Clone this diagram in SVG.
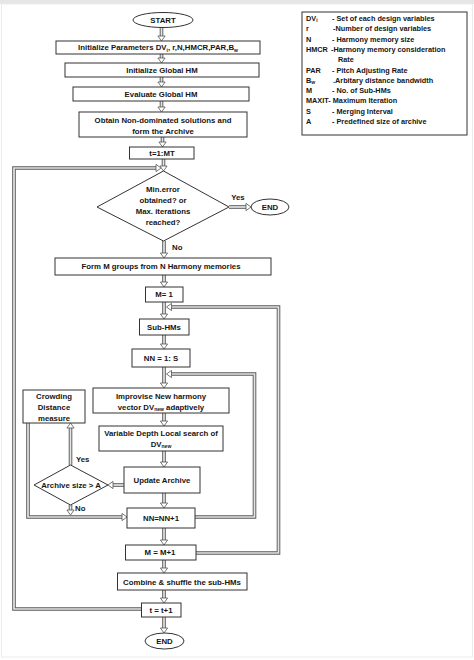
<svg xmlns="http://www.w3.org/2000/svg" xmlns:xlink="http://www.w3.org/1999/xlink" width="474" height="660" viewBox="0 0 474 660">
<style>
text{font-family:"Liberation Sans",Arial,sans-serif;font-weight:bold;font-size:7.8px;fill:#151515;}
.c{text-anchor:middle;}
.lg{font-size:7.3px;}
.sb{font-size:5px;}
.box{fill:#fff;stroke:#333;stroke-width:1;}
.o{fill:none;stroke:#5a5a5a;stroke-width:3.6;stroke-linejoin:miter;}
.i{fill:none;stroke:#e4e4e4;stroke-width:1.7;stroke-linejoin:miter;}
.ah{fill:#fff;stroke:#555;stroke-width:0.8;stroke-linejoin:miter;}
</style>
<defs>
<path id="ah" d="M-3.6,-5 L0,0 L3.6,-5 Z"/>
<path id="p1" d="M161.5,27 V37"/>
<path id="p2" d="M161.5,54 V59"/>
<path id="p3" d="M161.5,77 V83"/>
<path id="p4" d="M161.5,101 V108"/>
<path id="p5" d="M162.5,137 V143"/>
<path id="p6" d="M163.5,159 V167"/>
<path id="pl1" d="M141,609 H14 V168 H157"/>
<path id="p7" d="M229,207 H247"/>
<path id="p8" d="M164,241 V254"/>
<path id="p9" d="M164,275 V283"/>
<path id="p10" d="M164,302 V315"/>
<path id="pl2" d="M196,553 H278.5 V307 H170"/>
<path id="p11" d="M164,335 V345"/>
<path id="p12" d="M164,367 V384"/>
<path id="pl3" d="M195,517 H254.5 V374 H170"/>
<path id="p13" d="M164,413 V422"/>
<path id="p14" d="M164,451 V463"/>
<path id="p15" d="M164,493 V504"/>
<path id="p16" d="M164,528 V541"/>
<path id="p17" d="M164,560 V569"/>
<path id="p18" d="M164,590 V599"/>
<path id="p19" d="M164,617 V629"/>
<path id="pua" d="M124,485 H112"/>
<path id="pyes" d="M70.5,465 V427"/>
<path id="pno" d="M70.5,505 V511"/>
<path id="pleft" d="M28,423 V517 H123"/>
</defs>
<rect x="0" y="0" width="474" height="660" fill="#fff"/>
<rect x="0" y="0" width="474" height="4" fill="#e6e6e6"/>
<rect x="1.5" y="4" width="471" height="653" fill="none" stroke="#ececec" stroke-width="1"/>

<g id="connectors">
<g class="o">
<use xlink:href="#p1"/><use xlink:href="#p2"/><use xlink:href="#p3"/><use xlink:href="#p4"/><use xlink:href="#p5"/><use xlink:href="#p6"/>
<use xlink:href="#pl1"/><use xlink:href="#p7"/><use xlink:href="#p8"/><use xlink:href="#p9"/><use xlink:href="#p10"/><use xlink:href="#pl2"/>
<use xlink:href="#p11"/><use xlink:href="#p12"/><use xlink:href="#pl3"/><use xlink:href="#p13"/><use xlink:href="#p14"/><use xlink:href="#p15"/>
<use xlink:href="#p16"/><use xlink:href="#p17"/><use xlink:href="#p18"/><use xlink:href="#p19"/><use xlink:href="#pua"/><use xlink:href="#pyes"/>
<use xlink:href="#pno"/><use xlink:href="#pleft"/>
</g>
<g class="i">
<use xlink:href="#p1"/><use xlink:href="#p2"/><use xlink:href="#p3"/><use xlink:href="#p4"/><use xlink:href="#p5"/><use xlink:href="#p6"/>
<use xlink:href="#pl1"/><use xlink:href="#p7"/><use xlink:href="#p8"/><use xlink:href="#p9"/><use xlink:href="#p10"/><use xlink:href="#pl2"/>
<use xlink:href="#p11"/><use xlink:href="#p12"/><use xlink:href="#pl3"/><use xlink:href="#p13"/><use xlink:href="#p14"/><use xlink:href="#p15"/>
<use xlink:href="#p16"/><use xlink:href="#p17"/><use xlink:href="#p18"/><use xlink:href="#p19"/><use xlink:href="#pua"/><use xlink:href="#pyes"/>
<use xlink:href="#pno"/><use xlink:href="#pleft"/>
</g>
<g class="ah">
<use xlink:href="#ah" transform="translate(161.5,41)"/>
<use xlink:href="#ah" transform="translate(161.5,63)"/>
<use xlink:href="#ah" transform="translate(161.5,87)"/>
<use xlink:href="#ah" transform="translate(161.5,112)"/>
<use xlink:href="#ah" transform="translate(162.5,147)"/>
<use xlink:href="#ah" transform="translate(163.5,171)"/>
<use xlink:href="#ah" transform="translate(161,168) rotate(-90)"/>
<use xlink:href="#ah" transform="translate(251,207) rotate(-90)"/>
<use xlink:href="#ah" transform="translate(164,258)"/>
<use xlink:href="#ah" transform="translate(164,287)"/>
<use xlink:href="#ah" transform="translate(164,319)"/>
<use xlink:href="#ah" transform="translate(166.5,307) rotate(90)"/>
<use xlink:href="#ah" transform="translate(164,349)"/>
<use xlink:href="#ah" transform="translate(164,388)"/>
<use xlink:href="#ah" transform="translate(166.5,374) rotate(90)"/>
<use xlink:href="#ah" transform="translate(164,426)"/>
<use xlink:href="#ah" transform="translate(164,467)"/>
<use xlink:href="#ah" transform="translate(164,508)"/>
<use xlink:href="#ah" transform="translate(164,545)"/>
<use xlink:href="#ah" transform="translate(164,573)"/>
<use xlink:href="#ah" transform="translate(164,603)"/>
<use xlink:href="#ah" transform="translate(164,633)"/>
<use xlink:href="#ah" transform="translate(108,485) rotate(90)"/>
<use xlink:href="#ah" transform="translate(70.5,423) rotate(180)"/>
<use xlink:href="#ah" transform="translate(70.5,515)"/>
<use xlink:href="#ah" transform="translate(127,517) rotate(-90)"/>
</g>
<text x="238" y="200" class="c">Yes</text>
<text x="172" y="250">No</text>
<text x="76" y="462">Yes</text>
<text x="75" y="511">No</text>
</g>

<g id="start">
<ellipse cx="163" cy="20" rx="30" ry="7.5" class="box"/>
<text x="163" y="22.8" class="c">START</text>
</g>
<g id="init-params">
<rect x="56" y="41" width="204" height="13" class="box"/>
<text x="158" y="50.3" class="c">Initialize Parameters DV<tspan class="sb" dy="1.5">i</tspan><tspan dy="-1.5">, r,N,HMCR,PAR,B</tspan><tspan class="sb" dy="1.5">w</tspan></text>
</g>
<g id="init-hm">
<rect x="65" y="63" width="194" height="14" class="box"/>
<text x="162" y="72.8" class="c">Initialize Global HM</text>
</g>
<g id="eval-hm">
<rect x="73" y="87" width="176" height="14" class="box"/>
<text x="161" y="96.8" class="c">Evaluate Global HM</text>
</g>
<g id="archive">
<rect x="79" y="112" width="168" height="25" class="box"/>
<text x="163" y="123" class="c">Obtain Non-dominated solutions and</text>
<text x="163" y="134" class="c">form the Archive</text>
</g>
<g id="t-loop">
<rect x="129.5" y="147" width="64.5" height="12" class="box"/>
<text x="162" y="155.8" class="c">t=1:MT</text>
</g>
<g id="decision">
<polygon points="163.5,171 229,207 163.5,241 97,207" class="box"/>
<text x="163" y="191.8" class="c">Min.error</text>
<text x="163" y="202.8" class="c">obtained? or</text>
<text x="163" y="213.8" class="c">Max. iterations</text>
<text x="163" y="224.8" class="c">reached?</text>
</g>
<g id="end1">
<ellipse cx="270" cy="207" rx="19" ry="8" class="box"/>
<text x="270" y="209.8" class="c">END</text>
</g>
<g id="form-groups">
<rect x="55" y="258" width="216" height="17" class="box"/>
<text x="161" y="269.3" class="c">Form M groups from N Harmony memories</text>
</g>
<g id="m1">
<rect x="145.5" y="287" width="37.5" height="15" class="box"/>
<text x="164" y="297.3" class="c">M= 1</text>
</g>
<g id="subhms">
<rect x="139.5" y="319" width="49.5" height="16" class="box"/>
<text x="164" y="329.8" class="c">Sub-HMs</text>
</g>
<g id="nn1">
<rect x="132" y="349" width="58" height="18" class="box"/>
<text x="161" y="360.8" class="c">NN = 1: S</text>
</g>
<g id="crowding">
<rect x="23" y="390" width="62" height="33" class="box"/>
<text x="54" y="398.8" class="c">Crowding</text>
<text x="54" y="409.8" class="c">Distance</text>
<text x="54" y="420.8" class="c">measure</text>
</g>
<g id="improvise">
<rect x="93" y="388" width="136" height="25" class="box"/>
<text x="161" y="398.8" class="c">Improvise New harmony</text>
<text x="161" y="409.8" class="c">vector DV<tspan class="sb" dy="1">new</tspan><tspan dy="-1"> adaptively</tspan></text>
</g>
<g id="local-search">
<rect x="99" y="426" width="124" height="25" class="box"/>
<text x="161" y="435.8" class="c">Variable Depth Local search of</text>
<text x="161" y="446.8" class="c">DV<tspan class="sb" dy="1">new</tspan></text>
</g>
<g id="update-archive">
<rect x="124" y="467" width="76" height="26" class="box"/>
<text x="162" y="482.8" class="c">Update Archive</text>
</g>
<g id="archive-size">
<polygon points="70.5,465 108,485 70.5,505 34,485" class="box"/>
<text x="71" y="487.8" class="c">Archive size &gt; A</text>
</g>
<g id="nn-inc">
<rect x="127" y="508" width="68" height="20" class="box"/>
<text x="161" y="520.8" class="c">NN=NN+1</text>
</g>
<g id="m-inc">
<rect x="125.5" y="545" width="70.5" height="15" class="box"/>
<text x="160" y="555.3" class="c">M = M+1</text>
</g>
<g id="combine">
<rect x="117.5" y="573" width="129.5" height="17" class="box"/>
<text x="182" y="584.8" class="c">Combine &amp; shuffle the sub-HMs</text>
</g>
<g id="t-inc">
<rect x="141.5" y="603" width="39.5" height="14" class="box"/>
<text x="161" y="612.8" class="c">t = t+1</text>
</g>
<g id="end2">
<ellipse cx="164.5" cy="641" rx="19.5" ry="8" class="box"/>
<text x="164.5" y="643.8" class="c">END</text>
</g>

<g id="legend">
<rect x="302" y="12" width="165" height="123" class="box"/>
<text x="306" y="21" class="lg">DV<tspan class="sb" dy="1">i</tspan></text><text x="332" y="21" class="lg">- Set of each design variables</text>
<text x="306" y="31.3" class="lg">r</text><text x="333" y="31.3" class="lg">-Number of design variables</text>
<text x="306" y="41.6" class="lg">N</text><text x="332" y="41.6" class="lg">- Harmony memory size</text>
<text x="306" y="51.9" class="lg">HMCR</text><text x="331" y="51.9" class="lg">-Harmony memory consideration</text>
<text x="338" y="62.2" class="lg">Rate</text>
<text x="306" y="72.5" class="lg">PAR</text><text x="332" y="72.5" class="lg">- Pitch Adjusting Rate</text>
<text x="306" y="82.8" class="lg">B<tspan class="sb" dy="1">w</tspan></text><text x="333" y="82.8" class="lg">.Arbitary distance bandwidth</text>
<text x="306" y="93.1" class="lg">M</text><text x="332" y="93.1" class="lg">- No. of Sub-HMs</text>
<text x="306" y="103.4" class="lg">MAXIT- Maximum Iteration</text>
<text x="306" y="113.7" class="lg">S</text><text x="332" y="113.7" class="lg">- Merging Interval</text>
<text x="306" y="124" class="lg">A</text><text x="332" y="124" class="lg">- Predefined size of archive</text>
</g>
</svg>
